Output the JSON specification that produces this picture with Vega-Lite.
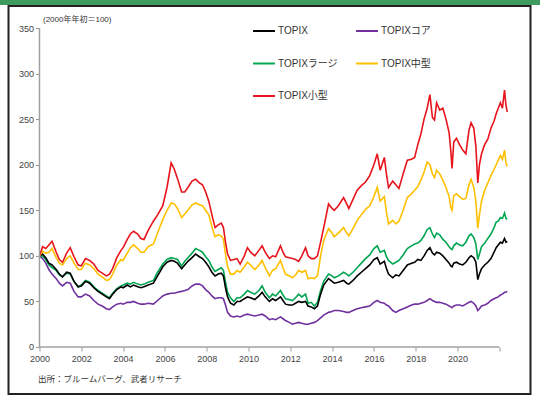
{
  "$schema": "https://vega.github.io/schema/vega-lite/v6.json",
  "padding": 0,
  "background": "white",
  "spacing": 0,
  "center": true,
  "config": {"font": "Liberation Sans, Noto Sans CJK JP", "view": {"stroke": null}},
  "vconcat": [
    {
      "width": 540,
      "height": 5,
      "view": {"fill": "#3e9a5e", "stroke": null},
      "data": {"values": []},
      "mark": "rect"
    },
    {
      "width": 522,
      "height": 388,
      "view": {"stroke": "#222222", "strokeWidth": 2, "fill": "white"},
      "layer": [
        {
          "data": {"values": [
            {"t":2000.0,"TOPIX":100,"TOPIXコア":100,"TOPIXラージ":100,"TOPIX中型":100,"TOPIX小型":100},
            {"t":2000.15,"TOPIX":102,"TOPIXコア":97,"TOPIXラージ":100,"TOPIX中型":105,"TOPIX小型":110},
            {"t":2000.3,"TOPIX":98,"TOPIXコア":92,"TOPIXラージ":96,"TOPIX中型":103,"TOPIX小型":108},
            {"t":2000.45,"TOPIX":92,"TOPIXコア":85,"TOPIXラージ":90,"TOPIX中型":104,"TOPIX小型":112},
            {"t":2000.6,"TOPIX":90,"TOPIXコア":80,"TOPIXラージ":87,"TOPIX中型":108,"TOPIX小型":116},
            {"t":2000.8,"TOPIX":85,"TOPIXコア":75,"TOPIXラージ":84,"TOPIX中型":98,"TOPIX小型":104},
            {"t":2000.95,"TOPIX":80,"TOPIXコア":70,"TOPIXラージ":79,"TOPIX中型":92,"TOPIX小型":96},
            {"t":2001.1,"TOPIX":77,"TOPIXコア":67,"TOPIXラージ":77,"TOPIX中型":90,"TOPIX小型":93},
            {"t":2001.3,"TOPIX":82,"TOPIXコア":71,"TOPIXラージ":81,"TOPIX中型":97,"TOPIX小型":103},
            {"t":2001.47,"TOPIX":81,"TOPIXコア":70,"TOPIXラージ":80,"TOPIX中型":100,"TOPIX小型":109},
            {"t":2001.65,"TOPIX":72,"TOPIXコア":61,"TOPIXラージ":72,"TOPIX中型":92,"TOPIX小型":99},
            {"t":2001.85,"TOPIX":66,"TOPIXコア":55,"TOPIXラージ":66,"TOPIX中型":85,"TOPIX小型":90},
            {"t":2002.0,"TOPIX":67,"TOPIXコア":55,"TOPIXラージ":68,"TOPIX中型":85,"TOPIX小型":89},
            {"t":2002.2,"TOPIX":72,"TOPIXコア":58,"TOPIXラージ":73,"TOPIX中型":92,"TOPIX小型":97},
            {"t":2002.4,"TOPIX":70,"TOPIXコア":56,"TOPIXラージ":71,"TOPIX中型":90,"TOPIX小型":95},
            {"t":2002.6,"TOPIX":65,"TOPIXコア":51,"TOPIXラージ":66,"TOPIX中型":86,"TOPIX小型":91},
            {"t":2002.8,"TOPIX":61,"TOPIXコア":47,"TOPIXラージ":62,"TOPIX中型":80,"TOPIX小型":84},
            {"t":2003.0,"TOPIX":58,"TOPIXコア":45,"TOPIXラージ":59,"TOPIX中型":77,"TOPIX小型":81},
            {"t":2003.2,"TOPIX":55,"TOPIXコア":42,"TOPIXラージ":56,"TOPIX中型":73,"TOPIX小型":78},
            {"t":2003.35,"TOPIX":53,"TOPIXコア":41,"TOPIXラージ":54,"TOPIX中型":74,"TOPIX小型":80},
            {"t":2003.5,"TOPIX":58,"TOPIXコア":44,"TOPIXラージ":59,"TOPIX中型":80,"TOPIX小型":86},
            {"t":2003.7,"TOPIX":63,"TOPIXコア":47,"TOPIXラージ":64,"TOPIX中型":90,"TOPIX小型":98},
            {"t":2003.9,"TOPIX":66,"TOPIXコア":48,"TOPIXラージ":67,"TOPIX中型":96,"TOPIX小型":106},
            {"t":2004.0,"TOPIX":65,"TOPIXコア":47,"TOPIXラージ":68,"TOPIX中型":95,"TOPIX小型":109},
            {"t":2004.2,"TOPIX":68,"TOPIXコア":49,"TOPIXラージ":70,"TOPIX中型":103,"TOPIX小型":118},
            {"t":2004.35,"TOPIX":66,"TOPIXコア":49,"TOPIXラージ":69,"TOPIX中型":109,"TOPIX小型":124},
            {"t":2004.5,"TOPIX":68,"TOPIXコア":50,"TOPIXラージ":71,"TOPIX中型":112,"TOPIX小型":127},
            {"t":2004.7,"TOPIX":66,"TOPIXコア":48,"TOPIXラージ":69,"TOPIX中型":108,"TOPIX小型":124},
            {"t":2004.85,"TOPIX":65,"TOPIXコア":47,"TOPIXラージ":68,"TOPIX中型":104,"TOPIX小型":119},
            {"t":2005.0,"TOPIX":66,"TOPIXコア":47,"TOPIXラージ":69,"TOPIX中型":104,"TOPIX小型":118},
            {"t":2005.2,"TOPIX":68,"TOPIXコア":48,"TOPIXラージ":71,"TOPIX中型":110,"TOPIX小型":128},
            {"t":2005.45,"TOPIX":70,"TOPIXコア":47,"TOPIXラージ":73,"TOPIX中型":113,"TOPIX小型":138},
            {"t":2005.65,"TOPIX":78,"TOPIXコア":51,"TOPIXラージ":82,"TOPIX中型":125,"TOPIX小型":145},
            {"t":2005.9,"TOPIX":88,"TOPIXコア":56,"TOPIXラージ":91,"TOPIX中型":140,"TOPIX小型":155},
            {"t":2006.1,"TOPIX":93,"TOPIXコア":58,"TOPIXラージ":96,"TOPIX中型":150,"TOPIX小型":175},
            {"t":2006.3,"TOPIX":95,"TOPIXコア":59,"TOPIXラージ":98,"TOPIX中型":158,"TOPIX小型":202},
            {"t":2006.45,"TOPIX":94,"TOPIXコア":59,"TOPIXラージ":97,"TOPIX中型":157,"TOPIX小型":195},
            {"t":2006.6,"TOPIX":92,"TOPIXコア":60,"TOPIXラージ":96,"TOPIX中型":152,"TOPIX小型":185},
            {"t":2006.8,"TOPIX":86,"TOPIXコア":61,"TOPIXラージ":89,"TOPIX中型":142,"TOPIX小型":170},
            {"t":2006.95,"TOPIX":90,"TOPIXコア":62,"TOPIXラージ":94,"TOPIX中型":146,"TOPIX小型":170},
            {"t":2007.1,"TOPIX":94,"TOPIXコア":63,"TOPIXラージ":98,"TOPIX中型":150,"TOPIX小型":175},
            {"t":2007.3,"TOPIX":98,"TOPIXコア":67,"TOPIXラージ":103,"TOPIX中型":156,"TOPIX小型":182},
            {"t":2007.47,"TOPIX":102,"TOPIXコア":69,"TOPIXラージ":108,"TOPIX中型":158,"TOPIX小型":184},
            {"t":2007.65,"TOPIX":99,"TOPIXコア":69,"TOPIXラージ":106,"TOPIX中型":156,"TOPIX小型":180},
            {"t":2007.8,"TOPIX":97,"TOPIXコア":67,"TOPIXラージ":104,"TOPIX中型":155,"TOPIX小型":178},
            {"t":2007.95,"TOPIX":93,"TOPIXコア":63,"TOPIXラージ":99,"TOPIX中型":150,"TOPIX小型":170},
            {"t":2008.1,"TOPIX":88,"TOPIXコア":60,"TOPIXラージ":95,"TOPIX中型":145,"TOPIX小型":160},
            {"t":2008.25,"TOPIX":82,"TOPIXコア":56,"TOPIXラージ":88,"TOPIX中型":132,"TOPIX小型":145},
            {"t":2008.4,"TOPIX":78,"TOPIXコア":53,"TOPIXラージ":83,"TOPIX中型":121,"TOPIX小型":131},
            {"t":2008.55,"TOPIX":80,"TOPIXコア":54,"TOPIXラージ":85,"TOPIX中型":123,"TOPIX小型":134},
            {"t":2008.7,"TOPIX":81,"TOPIXコア":54,"TOPIXラージ":87,"TOPIX中型":122,"TOPIX小型":136},
            {"t":2008.8,"TOPIX":78,"TOPIXコア":53,"TOPIXラージ":84,"TOPIX中型":118,"TOPIX小型":131},
            {"t":2008.9,"TOPIX":65,"TOPIXコア":46,"TOPIXラージ":71,"TOPIX中型":102,"TOPIX小型":115},
            {"t":2009.0,"TOPIX":55,"TOPIXコア":38,"TOPIXラージ":60,"TOPIX中型":88,"TOPIX小型":102},
            {"t":2009.14,"TOPIX":48,"TOPIXコア":34,"TOPIXラージ":54,"TOPIX中型":80,"TOPIX小型":95},
            {"t":2009.3,"TOPIX":46,"TOPIXコア":33,"TOPIXラージ":50,"TOPIX中型":80,"TOPIX小型":96},
            {"t":2009.45,"TOPIX":50,"TOPIXコア":34,"TOPIXラージ":54,"TOPIX中型":84,"TOPIX小型":97},
            {"t":2009.6,"TOPIX":50,"TOPIXコア":33,"TOPIXラージ":54,"TOPIX中型":82,"TOPIX小型":91},
            {"t":2009.8,"TOPIX":53,"TOPIXコア":35,"TOPIXラージ":58,"TOPIX中型":88,"TOPIX小型":100},
            {"t":2009.95,"TOPIX":55,"TOPIXコア":36,"TOPIXラージ":62,"TOPIX中型":93,"TOPIX小型":109},
            {"t":2010.1,"TOPIX":54,"TOPIXコア":35,"TOPIXラージ":60,"TOPIX中型":90,"TOPIX小型":104},
            {"t":2010.3,"TOPIX":52,"TOPIXコア":34,"TOPIXラージ":58,"TOPIX中型":85,"TOPIX小型":100},
            {"t":2010.5,"TOPIX":56,"TOPIXコア":35,"TOPIXラージ":62,"TOPIX中型":90,"TOPIX小型":106},
            {"t":2010.65,"TOPIX":60,"TOPIXコア":36,"TOPIXラージ":67,"TOPIX中型":95,"TOPIX小型":111},
            {"t":2010.8,"TOPIX":55,"TOPIXコア":34,"TOPIXラージ":60,"TOPIX中型":87,"TOPIX小型":104},
            {"t":2011.0,"TOPIX":50,"TOPIXコア":30,"TOPIXラージ":54,"TOPIX中型":78,"TOPIX小型":97},
            {"t":2011.15,"TOPIX":53,"TOPIXコア":31,"TOPIXラージ":58,"TOPIX中型":84,"TOPIX小型":100},
            {"t":2011.3,"TOPIX":51,"TOPIXコア":30,"TOPIXラージ":56,"TOPIX中型":86,"TOPIX小型":99},
            {"t":2011.53,"TOPIX":55,"TOPIXコア":33,"TOPIXラージ":62,"TOPIX中型":95,"TOPIX小型":111},
            {"t":2011.65,"TOPIX":51,"TOPIXコア":31,"TOPIXラージ":57,"TOPIX中型":87,"TOPIX小型":104},
            {"t":2011.77,"TOPIX":47,"TOPIXコア":29,"TOPIXラージ":53,"TOPIX中型":80,"TOPIX小型":99},
            {"t":2011.95,"TOPIX":46,"TOPIXコア":27,"TOPIXラージ":52,"TOPIX中型":78,"TOPIX小型":98},
            {"t":2012.1,"TOPIX":46,"TOPIXコア":25,"TOPIXラージ":51,"TOPIX中型":76,"TOPIX小型":97},
            {"t":2012.25,"TOPIX":48,"TOPIXコア":26,"TOPIXラージ":54,"TOPIX中型":79,"TOPIX小型":96},
            {"t":2012.4,"TOPIX":50,"TOPIXコア":27,"TOPIXラージ":58,"TOPIX中型":84,"TOPIX小型":94},
            {"t":2012.55,"TOPIX":49,"TOPIXコア":26,"TOPIXラージ":55,"TOPIX中型":82,"TOPIX小型":100},
            {"t":2012.73,"TOPIX":50,"TOPIXコア":25,"TOPIXラージ":58,"TOPIX中型":84,"TOPIX小型":109},
            {"t":2012.85,"TOPIX":45,"TOPIXコア":25,"TOPIXラージ":48,"TOPIX中型":75,"TOPIX小型":100},
            {"t":2013.0,"TOPIX":44,"TOPIXコア":26,"TOPIXラージ":49,"TOPIX中型":76,"TOPIX小型":97},
            {"t":2013.15,"TOPIX":42,"TOPIXコア":27,"TOPIXラージ":45,"TOPIX中型":75,"TOPIX小型":97},
            {"t":2013.3,"TOPIX":45,"TOPIXコア":29,"TOPIXラージ":49,"TOPIX中型":78,"TOPIX小型":100},
            {"t":2013.45,"TOPIX":58,"TOPIXコア":32,"TOPIXラージ":62,"TOPIX中型":100,"TOPIX小型":115},
            {"t":2013.6,"TOPIX":68,"TOPIXコア":35,"TOPIXラージ":72,"TOPIX中型":117,"TOPIX小型":131},
            {"t":2013.83,"TOPIX":75,"TOPIXコア":38,"TOPIXラージ":80,"TOPIX中型":130,"TOPIX小型":157},
            {"t":2014.0,"TOPIX":72,"TOPIXコア":39,"TOPIXラージ":78,"TOPIX中型":125,"TOPIX小型":152},
            {"t":2014.1,"TOPIX":70,"TOPIXコア":40,"TOPIXラージ":76,"TOPIX中型":121,"TOPIX小型":150},
            {"t":2014.3,"TOPIX":71,"TOPIXコア":40,"TOPIXラージ":78,"TOPIX中型":125,"TOPIX小型":155},
            {"t":2014.55,"TOPIX":73,"TOPIXコア":39,"TOPIXラージ":82,"TOPIX中型":131,"TOPIX小型":164},
            {"t":2014.7,"TOPIX":70,"TOPIXコア":38,"TOPIXラージ":80,"TOPIX中型":125,"TOPIX小型":157},
            {"t":2014.8,"TOPIX":69,"TOPIXコア":38,"TOPIXラージ":78,"TOPIX中型":122,"TOPIX小型":152},
            {"t":2015.0,"TOPIX":73,"TOPIXコア":40,"TOPIXラージ":82,"TOPIX中型":130,"TOPIX小型":162},
            {"t":2015.2,"TOPIX":78,"TOPIXコア":42,"TOPIXラージ":87,"TOPIX中型":139,"TOPIX小型":172},
            {"t":2015.4,"TOPIX":82,"TOPIXコア":43,"TOPIXラージ":92,"TOPIX中型":145,"TOPIX小型":177},
            {"t":2015.6,"TOPIX":86,"TOPIXコア":44,"TOPIXラージ":97,"TOPIX中型":151,"TOPIX小型":181},
            {"t":2015.8,"TOPIX":90,"TOPIXコア":45,"TOPIXラージ":101,"TOPIX中型":155,"TOPIX小型":188},
            {"t":2016.0,"TOPIX":96,"TOPIXコア":49,"TOPIXラージ":108,"TOPIX中型":165,"TOPIX小型":200},
            {"t":2016.16,"TOPIX":98,"TOPIXコア":51,"TOPIXラージ":111,"TOPIX中型":175,"TOPIX小型":212},
            {"t":2016.3,"TOPIX":91,"TOPIXコア":49,"TOPIXラージ":104,"TOPIX中型":160,"TOPIX小型":194},
            {"t":2016.5,"TOPIX":94,"TOPIXコア":48,"TOPIXラージ":106,"TOPIX中型":165,"TOPIX小型":208},
            {"t":2016.6,"TOPIX":86,"TOPIXコア":46,"TOPIXラージ":99,"TOPIX中型":148,"TOPIX小型":190},
            {"t":2016.7,"TOPIX":80,"TOPIXコア":45,"TOPIXラージ":95,"TOPIX中型":135,"TOPIX小型":175},
            {"t":2016.9,"TOPIX":76,"TOPIXコア":40,"TOPIXラージ":91,"TOPIX中型":139,"TOPIX小型":182},
            {"t":2017.05,"TOPIX":79,"TOPIXコア":38,"TOPIXラージ":93,"TOPIX中型":135,"TOPIX小型":178},
            {"t":2017.2,"TOPIX":78,"TOPIXコア":40,"TOPIXラージ":95,"TOPIX中型":138,"TOPIX小型":174},
            {"t":2017.4,"TOPIX":84,"TOPIXコア":42,"TOPIXラージ":101,"TOPIX中型":150,"TOPIX小型":190},
            {"t":2017.6,"TOPIX":90,"TOPIXコア":44,"TOPIXラージ":108,"TOPIX中型":164,"TOPIX小型":205},
            {"t":2017.8,"TOPIX":92,"TOPIXコア":46,"TOPIXラージ":111,"TOPIX中型":168,"TOPIX小型":206},
            {"t":2017.95,"TOPIX":93,"TOPIXコア":47,"TOPIXラージ":113,"TOPIX中型":172,"TOPIX小型":208},
            {"t":2018.1,"TOPIX":96,"TOPIXコア":47,"TOPIXラージ":114,"TOPIX中型":176,"TOPIX小型":222},
            {"t":2018.25,"TOPIX":95,"TOPIXコア":48,"TOPIXラージ":117,"TOPIX中型":183,"TOPIX小型":234},
            {"t":2018.4,"TOPIX":100,"TOPIXコア":49,"TOPIXラージ":122,"TOPIX中型":192,"TOPIX小型":250},
            {"t":2018.55,"TOPIX":106,"TOPIXコア":51,"TOPIXラージ":129,"TOPIX中型":203,"TOPIX小型":262},
            {"t":2018.68,"TOPIX":109,"TOPIXコア":53,"TOPIXラージ":131,"TOPIX中型":200,"TOPIX小型":277},
            {"t":2018.8,"TOPIX":103,"TOPIXコア":51,"TOPIXラージ":124,"TOPIX中型":190,"TOPIX小型":252},
            {"t":2018.9,"TOPIX":101,"TOPIXコア":50,"TOPIXラージ":120,"TOPIX中型":186,"TOPIX小型":249},
            {"t":2019.0,"TOPIX":104,"TOPIXコア":49,"TOPIXラージ":125,"TOPIX中型":194,"TOPIX小型":268},
            {"t":2019.15,"TOPIX":103,"TOPIXコア":49,"TOPIXラージ":123,"TOPIX中型":190,"TOPIX小型":260},
            {"t":2019.3,"TOPIX":100,"TOPIXコア":48,"TOPIXラージ":118,"TOPIX中型":183,"TOPIX小型":262},
            {"t":2019.45,"TOPIX":96,"TOPIXコア":47,"TOPIXラージ":115,"TOPIX中型":175,"TOPIX小型":250},
            {"t":2019.6,"TOPIX":92,"TOPIXコア":45,"TOPIXラージ":110,"TOPIX中型":165,"TOPIX小型":235},
            {"t":2019.68,"TOPIX":89,"TOPIXコア":44,"TOPIXラージ":108,"TOPIX中型":153,"TOPIX小型":215},
            {"t":2019.74,"TOPIX":88,"TOPIXコア":43,"TOPIXラージ":107,"TOPIX中型":150,"TOPIX小型":196},
            {"t":2019.82,"TOPIX":92,"TOPIXコア":45,"TOPIXラージ":111,"TOPIX中型":166,"TOPIX小型":225},
            {"t":2019.95,"TOPIX":93,"TOPIXコア":46,"TOPIXラージ":114,"TOPIX中型":168,"TOPIX小型":229},
            {"t":2020.1,"TOPIX":91,"TOPIXコア":46,"TOPIXラージ":112,"TOPIX中型":165,"TOPIX小型":222},
            {"t":2020.25,"TOPIX":90,"TOPIXコア":45,"TOPIXラージ":111,"TOPIX中型":162,"TOPIX小型":216},
            {"t":2020.4,"TOPIX":93,"TOPIXコア":47,"TOPIXラージ":115,"TOPIX中型":163,"TOPIX小型":212},
            {"t":2020.55,"TOPIX":98,"TOPIXコア":49,"TOPIXラージ":122,"TOPIX中型":178,"TOPIX小型":238},
            {"t":2020.65,"TOPIX":100,"TOPIXコア":50,"TOPIXラージ":124,"TOPIX中型":184,"TOPIX小型":246},
            {"t":2020.78,"TOPIX":98,"TOPIXコア":48,"TOPIXラージ":120,"TOPIX中型":175,"TOPIX小型":240},
            {"t":2020.88,"TOPIX":93,"TOPIXコア":45,"TOPIXラージ":113,"TOPIX中型":160,"TOPIX小型":220},
            {"t":2020.97,"TOPIX":74,"TOPIXコア":40,"TOPIXラージ":96,"TOPIX中型":130,"TOPIX小型":180},
            {"t":2021.05,"TOPIX":80,"TOPIXコア":42,"TOPIXラージ":102,"TOPIX中型":145,"TOPIX小型":200},
            {"t":2021.15,"TOPIX":86,"TOPIXコア":45,"TOPIXラージ":110,"TOPIX中型":160,"TOPIX小型":212},
            {"t":2021.3,"TOPIX":90,"TOPIXコア":46,"TOPIXラージ":114,"TOPIX中型":172,"TOPIX小型":222},
            {"t":2021.45,"TOPIX":93,"TOPIXコア":48,"TOPIXラージ":119,"TOPIX中型":180,"TOPIX小型":228},
            {"t":2021.6,"TOPIX":97,"TOPIXコア":51,"TOPIXラージ":124,"TOPIX中型":188,"TOPIX小型":240},
            {"t":2021.75,"TOPIX":104,"TOPIXコア":53,"TOPIXラージ":131,"TOPIX中型":195,"TOPIX小型":248},
            {"t":2021.85,"TOPIX":109,"TOPIXコア":54,"TOPIXラージ":137,"TOPIX中型":200,"TOPIX小型":256},
            {"t":2021.95,"TOPIX":112,"TOPIXコア":55,"TOPIXラージ":138,"TOPIX中型":205,"TOPIX小型":262},
            {"t":2022.05,"TOPIX":115,"TOPIXコア":57,"TOPIXラージ":142,"TOPIX中型":210,"TOPIX小型":268},
            {"t":2022.15,"TOPIX":114,"TOPIXコア":58,"TOPIXラージ":141,"TOPIX中型":206,"TOPIX小型":262},
            {"t":2022.25,"TOPIX":119,"TOPIXコア":60,"TOPIXラージ":147,"TOPIX中型":216,"TOPIX小型":282},
            {"t":2022.32,"TOPIX":115,"TOPIXコア":60,"TOPIXラージ":141,"TOPIX中型":202,"TOPIX小型":265},
            {"t":2022.38,"TOPIX":116,"TOPIXコア":61,"TOPIXラージ":140,"TOPIX中型":198,"TOPIX小型":258}
          ]},
          "transform": [
            {"fold": ["TOPIXコア", "TOPIXラージ", "TOPIX", "TOPIX中型", "TOPIX小型"], "as": ["series", "value"]}
          ],
          "mark": {"type": "line", "strokeWidth": 1.6},
          "encoding": {
            "x": {
              "field": "t",
              "type": "quantitative",
              "scale": {"domain": [1998.517, 2023.493], "nice": false, "zero": false},
              "axis": {
                "values": [2000,2001,2002,2003,2004,2005,2006,2007,2008,2009,2010,2011,2012,2013,2014,2015,2016,2017,2018,2019,2020,2021,2022],
                "format": "d",
                "labelExpr": "datum.value % 2 == 0 && datum.value <= 2020 ? datum.label : ''",
                "domain": false,
                "grid": false,
                "offset": -47,
                "ticks": true,
                "tickColor": "#999999",
                "tickSize": 4,
                "labelFontSize": 9,
                "labelColor": "#444444",
                "labelPadding": 3,
                "labelFlush": false,
                "labelOverlap": false,
                "title": "出所：ブルームバーグ、武者リサーチ",
                "titleX": 29,
                "titleY": 31,
                "titleAlign": "left",
                "titleBaseline": "middle",
                "titleFontSize": 8.5,
                "titleFontWeight": "normal",
                "titleColor": "#333333"
              }
            },
            "y": {
              "field": "value",
              "type": "quantitative",
              "scale": {"domain": [-51.57, 374.14], "nice": false, "zero": false},
              "axis": {
                "values": [0, 50, 100, 150, 200, 250, 300, 350],
                "domain": false,
                "grid": false,
                "offset": -31,
                "ticks": true,
                "tickColor": "#999999",
                "tickSize": 4,
                "labelFontSize": 9,
                "labelColor": "#444444",
                "labelPadding": 2,
                "title": "(2000年年初＝100)",
                "titleAngle": 0,
                "titleX": 3,
                "titleY": 13,
                "titleAlign": "left",
                "titleBaseline": "middle",
                "titleFontSize": 8,
                "titleFontWeight": "normal",
                "titleColor": "#333333"
              }
            },
            "color": {
              "field": "series",
              "type": "nominal",
              "scale": {
                "domain": ["TOPIX", "TOPIXコア", "TOPIXラージ", "TOPIX中型", "TOPIX小型"],
                "range": ["#000000", "#7030a0", "#00a651", "#ffc000", "#e8141c"]
              },
              "legend": {
                "orient": "none",
                "legendX": 252,
                "legendY": 19,
                "direction": "horizontal",
                "columns": 2,
                "title": null,
                "symbolType": "stroke",
                "symbolSize": 480,
                "symbolStrokeWidth": 2,
                "labelFontSize": 10,
                "labelColor": "#333333",
                "labelOffset": 2,
                "rowPadding": 15.5,
                "columnPadding": 14
              }
            }
          }
        },
        {
          "data": {"values": [{}]},
          "mark": {"type": "rule", "color": "#a0a0a0", "strokeWidth": 1.5},
          "encoding": {
            "x": {"datum": 2000, "type": "quantitative"},
            "y": {"datum": 0, "type": "quantitative"},
            "y2": {"datum": 350}
          }
        },
        {
          "data": {"values": [{}]},
          "mark": {"type": "rule", "color": "#a0a0a0", "strokeWidth": 1.5},
          "encoding": {
            "x": {"datum": 2000, "type": "quantitative"},
            "x2": {"datum": 2022},
            "y": {"datum": 0, "type": "quantitative"}
          }
        }
      ]
    }
  ]
}
